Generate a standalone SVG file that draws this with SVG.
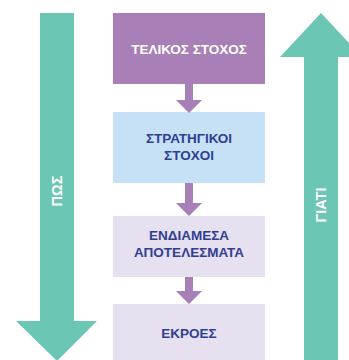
<svg xmlns="http://www.w3.org/2000/svg" width="349" height="360" viewBox="0 0 349 360">
<style>
.big{fill:#6cc6b4}
.lbl{font-family:"Liberation Sans",Arial,sans-serif;font-weight:bold;font-size:13.5px;text-anchor:middle}
.arr{font-size:14.5px}
.w{fill:#ffffff}
.b{fill:#2f3f92}
.conn{fill:#a87fb7}
</style>
<rect width="349" height="360" fill="#ffffff"/>
<g id="pos">
<polygon class="big" points="40,13 74,13 74,321 97,321 57,361 16,321 40,321"/>
<text class="lbl arr w" transform="translate(62,191) rotate(-90)">ΠΩΣ</text>
</g>
<g id="giati">
<polygon class="big" points="321,13 362,57 338,57 338,360 304,360 304,57 280,57"/>
<text class="lbl arr w" transform="translate(326,205) rotate(-90)">ΓΙΑΤΙ</text>
</g>
<g id="n1">
<rect x="113" y="13" width="152" height="71" fill="#a87fb7"/>
<text class="lbl w" x="189" y="54">ΤΕΛΙΚΟΣ ΣΤΟΧΟΣ</text>
</g>
<g id="n2">
<rect x="113" y="112" width="152" height="71" fill="#c6e1f5"/>
<text class="lbl b" x="189" y="143">ΣΤΡΑΤΗΓΙΚΟΙ</text>
<text class="lbl b" x="189" y="160">ΣΤΟΧΟΙ</text>
</g>
<g id="n3">
<rect x="113" y="216" width="152" height="61" fill="#e7e0f0"/>
<text class="lbl b" x="189" y="240">ΕΝΔΙΑΜΕΣΑ</text>
<text class="lbl b" x="189" y="257">ΑΠΟΤΕΛΕΣΜΑΤΑ</text>
</g>
<g id="n4">
<rect x="113" y="304" width="152" height="60" fill="#e7e0f0"/>
<text class="lbl b" x="189" y="338">ΕΚΡΟΕΣ</text>
</g>
<g id="connectors">
<polygon class="conn" points="185,84 193,84 193,100 202,100 189,113 176,100 185,100"/>
<polygon class="conn" points="185,183 193,183 193,203 202,203 189,216 176,203 185,203"/>
<polygon class="conn" points="185,277 193,277 193,291 202,291 189,304 176,291 185,291"/>
</g>
</svg>
